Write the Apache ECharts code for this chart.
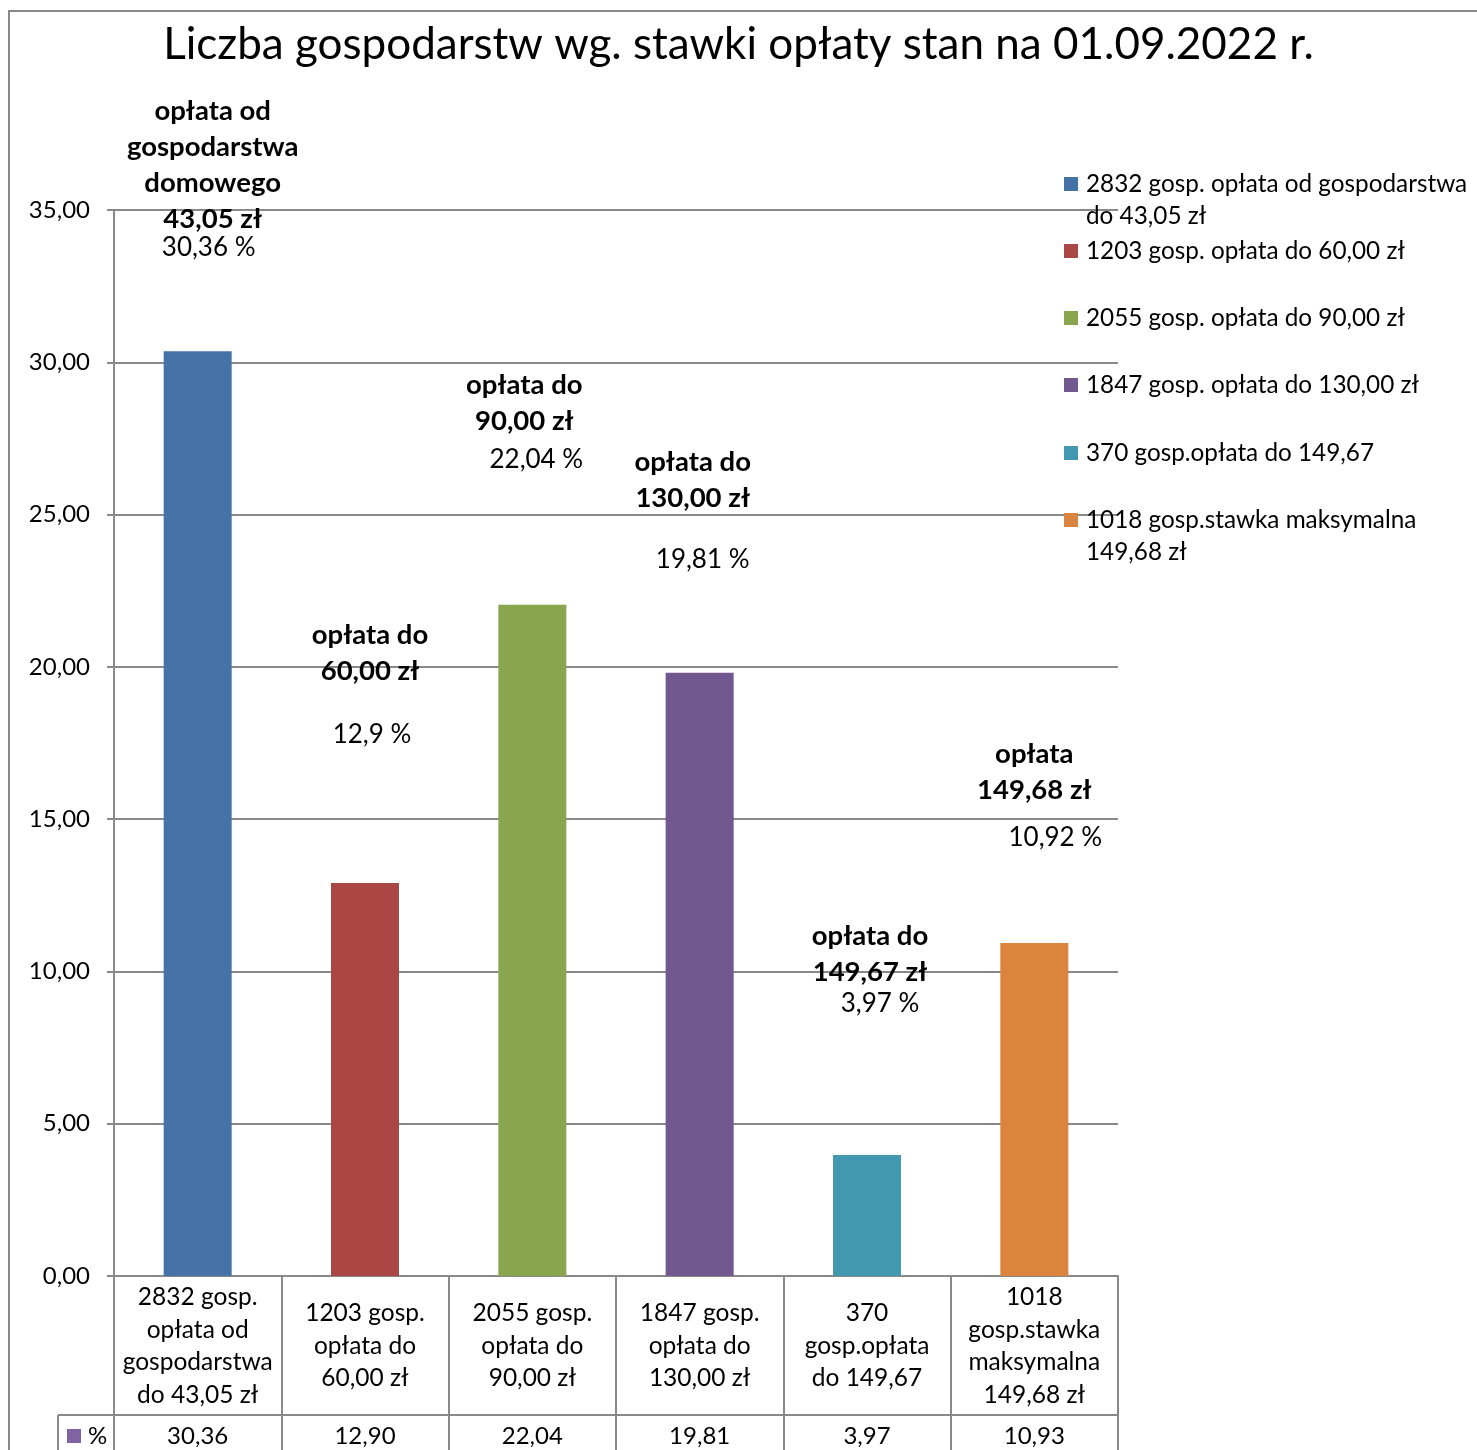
<!DOCTYPE html>
<html>
<head>
<meta charset="utf-8">
<script src="https://cdn.jsdelivr.net/npm/echarts@6/dist/echarts.min.js"></script>
<style>
html,body{margin:0;padding:0;background:#fff;}
#c{width:1477px;height:1450px;}
</style>
</head>
<body>
<div id="c"></div>
<script>
// ---- data ----
const titleText = 'Liczba gospodarstw wg. stawki opłaty stan na 01.09.2022 r.';
const categories = [
  '2832 gosp.\nopłata od\ngospodarstwa\ndo 43,05 zł',
  '1203 gosp.\nopłata do\n60,00 zł',
  '2055 gosp.\nopłata do\n90,00 zł',
  '1847 gosp.\nopłata do\n130,00 zł',
  '370\ngosp.opłata\ndo 149,67',
  '1018\ngosp.stawka\nmaksymalna\n149,68 zł'
];
const seriesNames = [
  '2832 gosp. opłata od gospodarstwa do 43,05 zł',
  '1203 gosp. opłata do 60,00 zł',
  '2055 gosp. opłata do 90,00 zł',
  '1847 gosp. opłata do 130,00 zł',
  '370 gosp.opłata do 149,67',
  '1018 gosp.stawka maksymalna 149,68 zł'
];
const legendLabels = [
  '2832 gosp. opłata od gospodarstwa\ndo 43,05 zł',
  '1203 gosp. opłata do 60,00 zł',
  '2055 gosp. opłata do 90,00 zł',
  '1847 gosp. opłata do 130,00 zł',
  '370 gosp.opłata do 149,67',
  '1018 gosp.stawka maksymalna\n149,68 zł'
];
const percentValues = [30.36, 12.90, 22.04, 19.81, 3.97, 10.93];
const tableSeriesName = '%';
const annotTitles = [
  'opłata od\ngospodarstwa\ndomowego\n43,05 zł',
  'opłata do\n60,00 zł',
  'opłata do\n90,00 zł',
  'opłata do\n130,00 zł',
  'opłata do\n149,67 zł',
  'opłata\n149,68 zł'
];
const annotPercents = ['30,36 %', '12,9 %', '22,04 %', '19,81 %', '3,97 %', '10,92 %'];
const yTicks = {min: 0, max: 35, interval: 5};

// ---- layout (anchors of free-floating annotation blocks: axis value + px offset) ----
const titleAnchor = [[36.48, 15], [20.44, 5], [28.65, -8], [26.14, -7], [10.56, 3], [16.56, 0]];
const pctAnchor = [[33.75, 11], [17.76, 7], [26.79, 4], [23.51, 3], [8.93, 13], [14.41, 21]];

// ---- styles ----
const FONT = 'Lato, "Liberation Sans", sans-serif';
const colors = ['#4572A7', '#AA4643', '#89A54E', '#71588F', '#4198AF', '#DB843D'];
const GRAY = '#898989';
const legendCenters = [184, 251, 318, 385, 453, 520];

const fmt = v => v.toFixed(2).replace('.', ',');

const barSeries = seriesNames.map((name, i) => ({
  name: name,
  type: 'bar',
  stack: 'one',
  barWidth: 68,
  itemStyle: {color: colors[i]},
  data: percentValues.map((v, j) => (j === i ? v : '-'))
}));

const legends = seriesNames.map((name, i) => {
  const twoLine = legendLabels[i].indexOf('\n') >= 0;
  return {
    data: [name],
    orient: 'vertical',
    left: 1064,
    top: twoLine ? legendCenters[i] - 48 : legendCenters[i] - 16,
    padding: 0,
    icon: 'rect',
    itemWidth: 14, itemHeight: 14,
    selectedMode: false,
    formatter: () => (twoLine ? '\n' : '') + legendLabels[i],
    textStyle: {fontFamily: FONT, fontSize: 24.3, lineHeight: 32, color: '#000', padding: [0, 0, 0, 3]}
  };
});

const staticGraphics = [
  {type: 'rect', shape: {x: 9, y: 11, width: 1600, height: 1600},
   style: {fill: 'none', stroke: GRAY, lineWidth: 2}, z: 0, silent: true},
  {type: 'line', shape: {x1: 58, y1: 1415, x2: 114, y2: 1415},
   style: {stroke: GRAY, lineWidth: 2}, silent: true},
  {type: 'line', shape: {x1: 58, y1: 1415, x2: 58, y2: 1460},
   style: {stroke: GRAY, lineWidth: 2}, silent: true},
  {type: 'rect', shape: {x: 67, y: 1429, width: 14, height: 14},
   style: {fill: '#8064A2'}, silent: true},
  {type: 'text', x: 88, y: 1436,
   style: {text: tableSeriesName, fontFamily: FONT, fontSize: 24, fill: '#000', verticalAlign: 'middle'}, silent: true}
];

const chart = echarts.init(document.getElementById('c'), null, {renderer: 'canvas'});
chart.setOption({
  animation: false,
  backgroundColor: '#fff',
  title: {
    text: titleText, left: 'center', top: 18,
    textStyle: {fontFamily: FONT, fontSize: 44, fontWeight: 'normal', color: '#000'}
  },
  legend: legends,
  grid: {left: 114, right: 359, top: 210, bottom: 174, containLabel: false, outerBoundsMode: 'none'},
  xAxis: [
    {
      type: 'category', data: categories, position: 'bottom',
      axisLine: {show: true, lineStyle: {color: GRAY, width: 2}},
      axisTick: {show: true, length: 139, interval: 0, lineStyle: {color: GRAY, width: 2}},
      axisLabel: {
        interval: 0, margin: 70, verticalAlign: 'middle',
        fontFamily: FONT, fontSize: 24.5, lineHeight: 32.5, color: '#000'
      },
      splitLine: {show: false}
    },
    {
      type: 'category', data: percentValues.map(fmt), position: 'bottom', offset: 139,
      axisLine: {show: true, lineStyle: {color: GRAY, width: 2}},
      axisTick: {show: true, length: 40, interval: 0, lineStyle: {color: GRAY, width: 2}},
      axisLabel: {
        interval: 0, margin: 21, verticalAlign: 'middle',
        fontFamily: FONT, fontSize: 24, color: '#000'
      },
      splitLine: {show: false}
    }
  ],
  yAxis: {
    type: 'value', min: yTicks.min, max: yTicks.max, interval: yTicks.interval,
    axisLine: {show: true, lineStyle: {color: GRAY, width: 2}},
    axisTick: {show: true, length: 7, lineStyle: {color: GRAY, width: 2}},
    axisLabel: {
      formatter: fmt, margin: 24,
      fontFamily: FONT, fontSize: 24, color: '#000'
    },
    splitLine: {show: true, lineStyle: {color: GRAY, width: 2}}
  },
  graphic: staticGraphics,
  series: barSeries
});

// annotation blocks placed through the chart's own axis scales
function annotGraphics(anchors, texts, bold) {
  return anchors.map((a, i) => {
    const p = chart.convertToPixel({xAxisIndex: 0, yAxisIndex: 0}, [i, a[0]]);
    return {
      type: 'text', x: p[0] + a[1], y: p[1], z: 10, silent: true,
      style: {
        text: texts[i], fontFamily: FONT, fontSize: bold ? 27.5 : 26,
        fontWeight: bold ? 'bold' : 'normal', lineHeight: 36,
        fill: '#000', align: 'center', verticalAlign: 'middle'
      }
    };
  });
}
chart.setOption({
  graphic: staticGraphics
    .concat(annotGraphics(titleAnchor, annotTitles, true))
    .concat(annotGraphics(pctAnchor, annotPercents, false))
}, {replaceMerge: ['graphic']});
</script>
</body>
</html>
